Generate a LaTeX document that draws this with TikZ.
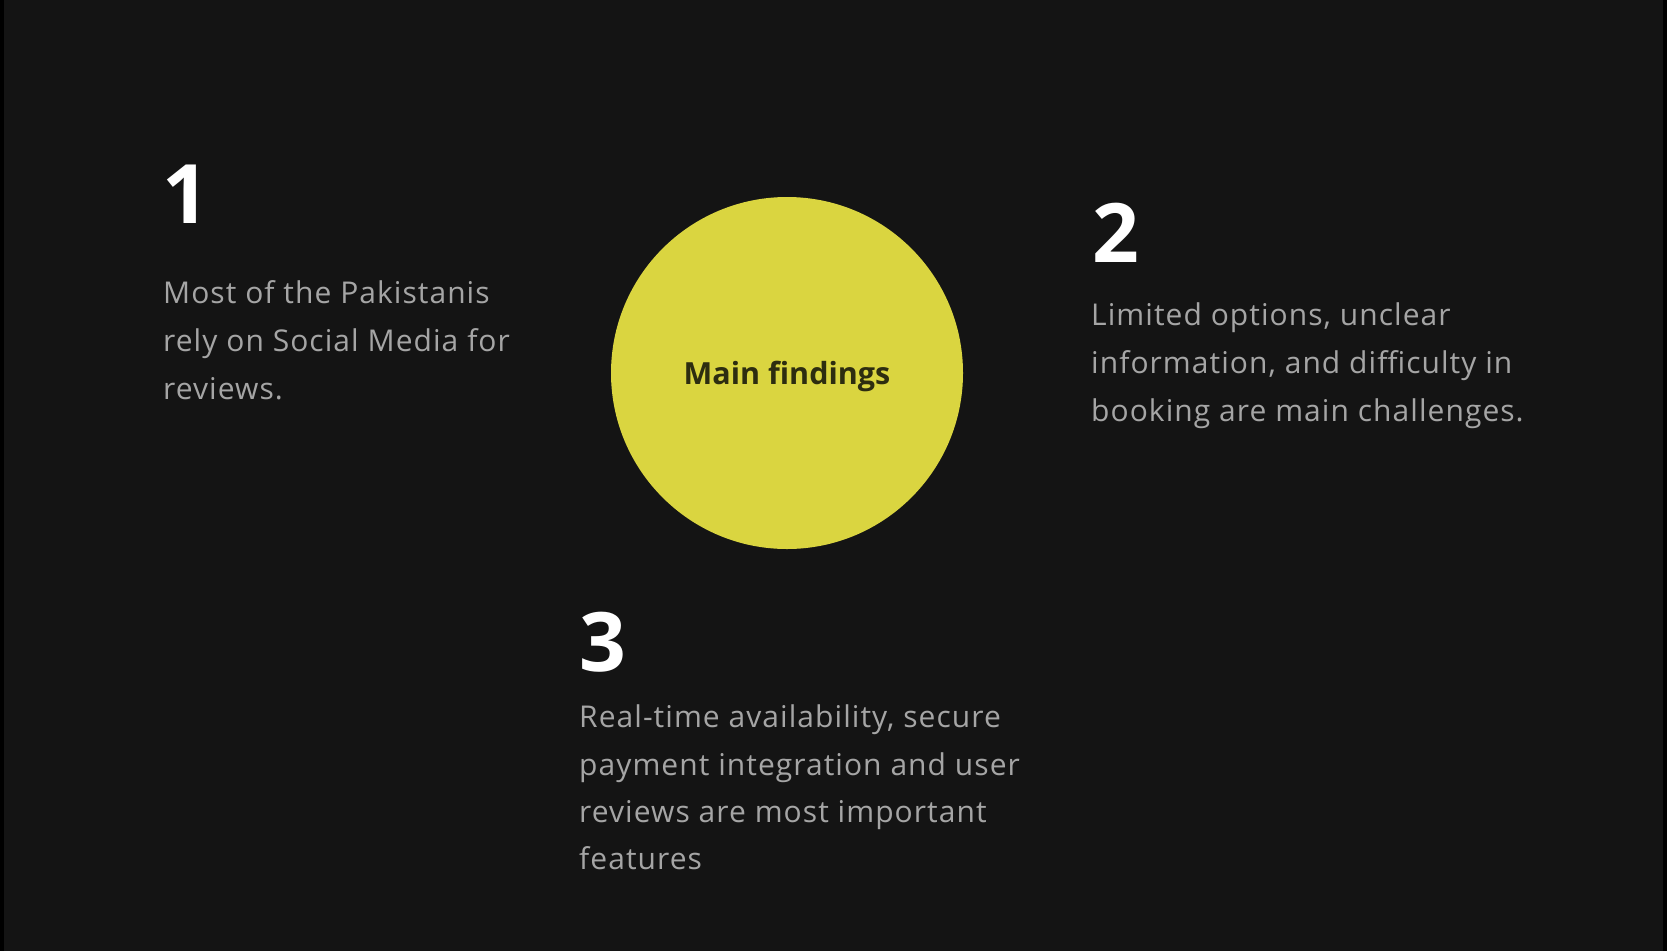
\documentclass[tikz,border=0pt]{standalone}
\usepackage{fontspec}
\setmainfont{Open Sans}
\newfontfamily\bodyfont[LetterSpace=3.5]{Open Sans}
\definecolor{bg}{RGB}{20,20,20}
\definecolor{edge}{RGB}{0,0,0}
\definecolor{sun}{RGB}{218,213,64}
\definecolor{body}{RGB}{165,165,165}
\definecolor{ink}{RGB}{45,45,16}
\begin{document}
\begin{tikzpicture}[x=1pt,y=1pt,
  bodyline/.style={anchor=base west,inner sep=0pt,text=body,font=\bodyfont\fontsize{30}{36}\selectfont},
  numeral/.style={anchor=base west,inner sep=0pt,text=white,font=\fontsize{82}{90}\selectfont\bfseries},
  hub/.style={circle,fill=sun,minimum size=352pt,inner sep=0pt}]
\useasboundingbox (0,0) rectangle (1667,-951);
\fill[edge] (0,0) rectangle (1667,-951);
\fill[bg] (4,0) rectangle (1663,-951);
\node[hub] (c) at (787,-373) {};
\node[anchor=base,inner sep=0pt,text=ink,font=\fontsize{30.5}{36}\selectfont\bfseries] (ct) at (787,-384) {Main findings};
% 1
\node[numeral] (n1) at (162,-223) {1};
\node[bodyline] (p1a) at (163,-303) {Most of the Pakistanis};
\node[bodyline] (p1b) at (163,-351) {rely on Social Media for};
\node[bodyline] (p1c) at (163,-399) {reviews.};
% 2
\node[numeral] (n2) at (1092,-262) {2};
\node[bodyline] (p2a) at (1091,-325) {Limited options, unclear};
\node[bodyline] (p2b) at (1091,-373) {information, and difficulty in};
\node[bodyline] (p2c) at (1091,-421) {booking are main challenges.};
% 3
\node[numeral] (n3) at (579,-671) {3};
\node[bodyline] (p3a) at (579,-727) {Real-time availability, secure};
\node[bodyline] (p3b) at (579,-775) {payment integration and user};
\node[bodyline] (p3c) at (579,-822) {reviews are most important};
\node[bodyline] (p3d) at (579,-869) {features};
\end{tikzpicture}
\end{document}
